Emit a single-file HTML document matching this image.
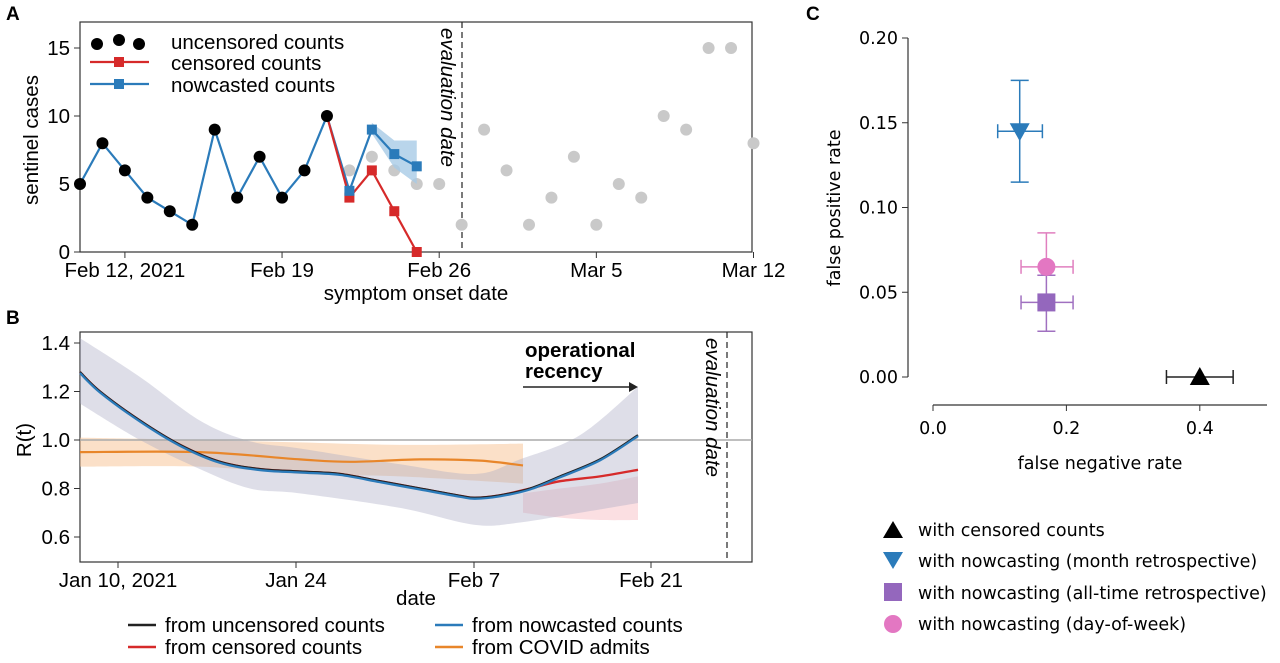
<!DOCTYPE html>
<html><head><meta charset="utf-8"><style>
html,body{margin:0;padding:0;background:#fff;width:1280px;height:663px;overflow:hidden}
svg{display:block}
</style></head><body>
<svg id="s" width="1280" height="663" viewBox="0 0 1280 663" xmlns="http://www.w3.org/2000/svg">
<rect width="1280" height="663" fill="#fff"/>
<text x="6" y="20" font-size="19" font-weight="bold" font-family="Liberation Sans, sans-serif">A</text>
<text x="6" y="324" font-size="19" font-weight="bold" font-family="Liberation Sans, sans-serif">B</text>
<text x="806" y="20" font-size="19" font-weight="bold" font-family="Liberation Sans, sans-serif">C</text>
<g id="A"></g><g id="B"></g><g id="C"></g>
</svg>
<script>
const NS="http://www.w3.org/2000/svg";
function el(p,t,a,txt){const e=document.createElementNS(NS,t);for(const k in a)e.setAttribute(k,a[k]);if(txt!==undefined)e.textContent=txt;p.appendChild(e);return e;}
const F="Liberation Sans Narrow, Liberation Sans, sans-serif";
const FW="DejaVu Sans, Liberation Sans, sans-serif";
const FS=20.5, CS=17.5;
function smooth(pts){let d="M"+pts[0][0]+","+pts[0][1];for(let i=0;i<pts.length-1;i++){const p0=pts[i-1]||pts[i],p1=pts[i],p2=pts[i+1],p3=pts[i+2]||p2;const c1=[p1[0]+(p2[0]-p0[0])/6,p1[1]+(p2[1]-p0[1])/6],c2=[p2[0]-(p3[0]-p1[0])/6,p2[1]-(p3[1]-p1[1])/6];d+=` C${c1[0]},${c1[1]} ${c2[0]},${c2[1]} ${p2[0]},${p2[1]}`;}return d;}
// ---- A ----
const A=document.getElementById("A");
const ax=d=>80+d*22.45, ay=v=>252-13.6*v;
el(A,"rect",{x:80,y:22,width:672,height:230,fill:"none",stroke:"#333","stroke-width":1.2});
[0,5,10,15].forEach(v=>{el(A,"line",{x1:74,x2:80,y1:ay(v),y2:ay(v),stroke:"#333"});el(A,"text",{x:70,y:ay(v)+7,"text-anchor":"end","font-size":FS,"font-family":F},v);});
[[2,"Feb 12, 2021"],[9,"Feb 19"],[16,"Feb 26"],[23,"Mar 5"],[30,"Mar 12"]].forEach(([d,t])=>{el(A,"line",{x1:ax(d),x2:ax(d),y1:252,y2:258,stroke:"#333"});el(A,"text",{x:ax(d),y:277,"text-anchor":"middle","font-size":FS,"font-family":F},t);});
el(A,"text",{x:416,y:300,"text-anchor":"middle","font-size":FS,"font-family":F},"symptom onset date");
el(A,"text",{transform:"translate(38,140) rotate(-90)","text-anchor":"middle","font-size":FS,"font-family":F},"sentinel cases");
el(A,"line",{x1:462,x2:462,y1:22,y2:252,stroke:"#222","stroke-dasharray":"6,4","stroke-width":1.2});
el(A,"text",{transform:"translate(441,28) rotate(90)","font-size":FS,"font-style":"italic","font-family":F},"evaluation date");
const gray=[6,7,6,5,5,2,9,6,2,4,7,2,5,4,10,9,15,15,8];
gray.forEach((v,i)=>el(A,"circle",{cx:ax(12+i),cy:ay(v),r:6,fill:"#c9c9c9"}));
el(A,"path",{d:`M${ax(13)},${ay(9.5)} L${ax(14)},${ay(8.2)} L${ax(15)},${ay(8.2)} L${ax(15)},${ay(5)} L${ax(14)},${ay(6.2)} L${ax(13)},${ay(8.7)} Z`,fill:"#a8cbe6",opacity:0.8});
const blk=[5,8,6,4,3,2,9,4,7,4,6,10];
const blue=blk.concat([4.5,9,7.2,6.3]);
el(A,"polyline",{points:blue.map((v,i)=>ax(i)+","+ay(v)).join(" "),fill:"none",stroke:"#2b7bba","stroke-width":2.2});
const red=[[11,10],[12,4],[13,6],[14,3],[15,0]];
el(A,"polyline",{points:red.map(p=>ax(p[0])+","+ay(p[1])).join(" "),fill:"none",stroke:"#d62a2a","stroke-width":2.2});
red.slice(1).forEach(p=>el(A,"rect",{x:ax(p[0])-5,y:ay(p[1])-5,width:10,height:10,fill:"#d62a2a"}));
[[12,4.5],[13,9],[14,7.2],[15,6.3]].forEach(p=>el(A,"rect",{x:ax(p[0])-5,y:ay(p[1])-5,width:10,height:10,fill:"#2b7bba"}));
blk.forEach((v,i)=>el(A,"circle",{cx:ax(i),cy:ay(v),r:6,fill:"#000"}));
[[97,44],[119,40],[139,44]].forEach(p=>el(A,"circle",{cx:p[0],cy:p[1],r:6,fill:"#000"}));
el(A,"text",{x:171,y:49,"font-size":FS,"font-family":F},"uncensored counts");
el(A,"line",{x1:90,x2:149,y1:62,y2:62,stroke:"#d62a2a","stroke-width":2.2});el(A,"rect",{x:114,y:57,width:10,height:10,fill:"#d62a2a"});
el(A,"text",{x:171,y:70,"font-size":FS,"font-family":F},"censored counts");
el(A,"line",{x1:90,x2:149,y1:84,y2:84,stroke:"#2b7bba","stroke-width":2.2});el(A,"rect",{x:114,y:79,width:10,height:10,fill:"#2b7bba"});
el(A,"text",{x:171,y:92,"font-size":FS,"font-family":F},"nowcasted counts");
// ---- B ----
const B=document.getElementById("B");
const by=v=>343+(1.4-v)*242.5;
el(B,"rect",{x:80,y:332,width:672,height:230,fill:"none",stroke:"#333","stroke-width":1.2});
[0.6,0.8,1.0,1.2,1.4].forEach(v=>{el(B,"line",{x1:74,x2:80,y1:by(v),y2:by(v),stroke:"#333"});el(B,"text",{x:70,y:by(v)+7,"text-anchor":"end","font-size":FS,"font-family":F},v.toFixed(1));});
[[118,"Jan 10, 2021"],[296,"Jan 24"],[474,"Feb 7"],[651,"Feb 21"]].forEach(([x,t])=>{el(B,"line",{x1:x,x2:x,y1:562,y2:568,stroke:"#333"});el(B,"text",{x:x,y:587,"text-anchor":"middle","font-size":FS,"font-family":F},t);});
el(B,"text",{x:416,y:605,"text-anchor":"middle","font-size":FS,"font-family":F},"date");
el(B,"text",{transform:"translate(31,440) rotate(-90)","text-anchor":"middle","font-size":FS,"font-family":F},"R(t)");
function band(up,lo,fill,op){const P=up.map(p=>[p[0],by(p[1])]),L=lo.map(p=>[p[0],by(p[1])]).reverse();const sl=smooth(L);const rest=sl.indexOf(" C")>=0?sl.slice(sl.indexOf(" C")):"";el(B,"path",{d:smooth(P)+" L"+L[0][0]+","+L[0][1]+rest+" Z",fill:fill,opacity:op});}
band([[80,1.01],[200,1.0],[300,0.99],[400,0.98],[523,0.985]],[[80,0.89],[200,0.89],[300,0.86],[400,0.85],[523,0.82]],"#f7c79a",0.55);
band([[523,0.78],[560,0.8],[600,0.82],[638,0.85]],[[523,0.70],[560,0.68],[600,0.67],[638,0.67]],"#f9c9cf",0.6);
band([[80,1.42],[140,1.26],[200,1.08],[250,0.995],[300,0.965],[400,0.9],[475,0.86],[520,0.92],[580,1.02],[638,1.22]],[[80,1.15],[140,1.0],[200,0.88],[250,0.8],[300,0.78],[400,0.72],[475,0.65],[520,0.66],[580,0.70],[638,0.74]],"#a9a7c2",0.38);
el(B,"line",{x1:80,x2:752,y1:by(1),y2:by(1),stroke:"#aaa","stroke-width":1.5});
const base=[[80,1.28],[100,1.2],[140,1.08],[180,0.98],[220,0.91],[260,0.88],[300,0.87],[340,0.86],[380,0.83],[420,0.80],[460,0.77],[475,0.762],[500,0.772],[530,0.80]];
const P=a=>a.map(p=>[p[0],by(p[1])]);
el(B,"path",{d:smooth(P([[80,0.95],[200,0.95],[300,0.92],[350,0.91],[420,0.92],[480,0.915],[523,0.895]])),fill:"none",stroke:"#e8862a","stroke-width":2.2});
el(B,"path",{d:smooth(P(base.concat([[560,0.83],[600,0.85],[638,0.877]]))),fill:"none",stroke:"#d62a2a","stroke-width":2.4});
el(B,"path",{d:smooth(P(base.concat([[560,0.85],[600,0.92],[638,1.02]]))),fill:"none",stroke:"#222","stroke-width":2.2});
el(B,"path",{d:smooth(P(base.concat([[560,0.85],[600,0.92],[638,1.02]]))),fill:"none",stroke:"#2b7bba","stroke-width":2.2,transform:"translate(0,1)"});
el(B,"line",{x1:727,x2:727,y1:332,y2:562,stroke:"#222","stroke-dasharray":"6,4","stroke-width":1.2});
el(B,"text",{transform:"translate(706,338) rotate(90)","font-size":FS,"font-style":"italic","font-family":F},"evaluation date");
el(B,"text",{x:525,y:357,"font-size":FS,"font-weight":"bold","font-family":F},"operational");
el(B,"text",{x:525,y:378,"font-size":FS,"font-weight":"bold","font-family":F},"recency");
el(B,"line",{x1:523,x2:632,y1:387,y2:387,stroke:"#222","stroke-width":1.5});
el(B,"path",{d:"M638,387 L629,382 L629,392 Z",fill:"#222"});
[[128,625,"#222","from uncensored counts"],[128,647,"#d62a2a","from censored counts"],[435,625,"#2b7bba","from nowcasted counts"],[435,647,"#e8862a","from COVID admits"]].forEach(([x,y,c,t])=>{el(B,"line",{x1:x,x2:x+28,y1:y,y2:y,stroke:c,"stroke-width":2.5});el(B,"text",{x:x+37,y:y+7,"font-size":FS,"font-family":F},t);});
// ---- C ----
const C=document.getElementById("C");
const cx=v=>933+v*667, cy=v=>377-v*1695;
el(C,"line",{x1:908,x2:908,y1:cy(0.2),y2:cy(0),stroke:"#333","stroke-width":1.2});
el(C,"line",{x1:933,x2:1267,y1:405,y2:405,stroke:"#333","stroke-width":1.2});
[0,0.05,0.1,0.15,0.2].forEach(v=>{el(C,"line",{x1:902,x2:908,y1:cy(v),y2:cy(v),stroke:"#333"});el(C,"text",{x:898,y:cy(v)+6,"text-anchor":"end","font-size":CS,"font-family":FW},v.toFixed(2));});
[0,0.2,0.4].forEach(v=>{el(C,"line",{x1:cx(v),x2:cx(v),y1:405,y2:411,stroke:"#333"});el(C,"text",{x:cx(v),y:434,"text-anchor":"middle","font-size":CS,"font-family":FW},v.toFixed(1));});
el(C,"text",{x:1100,y:469,"text-anchor":"middle","font-size":CS,"font-family":FW},"false negative rate");
el(C,"text",{transform:"translate(840,208) rotate(-90)","text-anchor":"middle","font-size":CS,"font-family":FW},"false positive rate");
function eb(x,y,x1,x2,y1,y2,c){const g=el(C,"g",{stroke:c,"stroke-width":1.5,fill:"none"});
 el(g,"line",{x1:cx(x1),x2:cx(x2),y1:cy(y),y2:cy(y)});el(g,"line",{x1:cx(x1),x2:cx(x1),y1:cy(y)-7,y2:cy(y)+7});el(g,"line",{x1:cx(x2),x2:cx(x2),y1:cy(y)-7,y2:cy(y)+7});
 if(y1!==null){el(g,"line",{x1:cx(x),x2:cx(x),y1:cy(y1),y2:cy(y2)});el(g,"line",{x1:cx(x)-9,x2:cx(x)+9,y1:cy(y1),y2:cy(y1)});el(g,"line",{x1:cx(x)-9,x2:cx(x)+9,y1:cy(y2),y2:cy(y2)});}}
eb(0.13,0.145,0.097,0.164,0.115,0.175,"#2b7bba");
el(C,"path",{d:`M${cx(0.13)-10},${cy(0.145)-8} L${cx(0.13)+10},${cy(0.145)-8} L${cx(0.13)},${cy(0.145)+10} Z`,fill:"#2b7bba"});
eb(0.17,0.065,0.132,0.21,0.06,0.085,"#e07fbf");
eb(0.17,0.044,0.132,0.21,0.027,0.06,"#a070c0");
el(C,"rect",{x:cx(0.17)-9,y:cy(0.044)-9,width:18,height:18,fill:"#9467bd"});
el(C,"circle",{cx:cx(0.17),cy:cy(0.065),r:9,fill:"#e377c2"});
eb(0.4,0,0.35,0.45,null,null,"#222");
el(C,"path",{d:`M${cx(0.4)-10},${cy(0)+8} L${cx(0.4)+10},${cy(0)+8} L${cx(0.4)},${cy(0)-10} Z`,fill:"#000"});
const LX=893;
el(C,"path",{d:`M${LX-10},538 L${LX+10},538 L${LX},521 Z`,fill:"#000"});
el(C,"path",{d:`M${LX-10},552 L${LX+10},552 L${LX},569 Z`,fill:"#2b7bba"});
el(C,"rect",{x:LX-9,y:583,width:18,height:18,fill:"#9467bd"});
el(C,"circle",{cx:LX,cy:624,r:9,fill:"#e377c2"});
[[530,"with censored counts"],[561,"with nowcasting (month retrospective)"],[593,"with nowcasting (all-time retrospective)"],[624,"with nowcasting (day-of-week)"]].forEach(([y,t])=>el(C,"text",{x:918,y:y+6,"font-size":CS,"font-family":FW},t));
</script>
</body></html>
